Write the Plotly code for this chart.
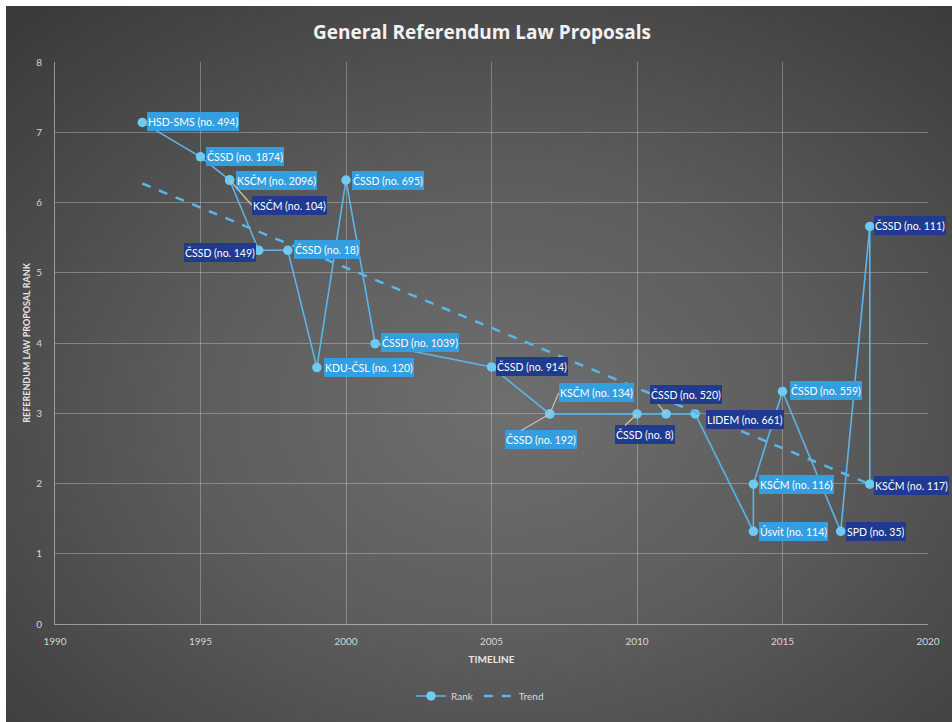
import plotly.graph_objects as go

# ---- data ----
years = [1993, 1995, 1996, 1996, 1997, 1998, 1999, 2000, 2001, 2005,
         2007, 2007, 2010, 2011, 2012, 2014, 2014, 2015, 2017, 2018, 2018]
ranks = [7.14, 6.65, 6.32, 6.32, 5.32, 5.32, 3.65, 6.32, 3.99, 3.66,
         2.99, 2.99, 2.99, 2.99, 2.99, 1.32, 1.99, 3.31, 1.32, 5.66, 1.99]
labels = ["HSD-SMS (no. 494)", "ČSSD (no. 1874)", "KSČM (no. 2096)", "KSČM (no. 104)",
          "ČSSD (no. 149)", "ČSSD (no. 18)", "KDU-ČSL (no. 120)", "ČSSD (no. 695)",
          "ČSSD (no. 1039)", "ČSSD (no. 914)", "ČSSD (no. 192)", "KSČM (no. 134)",
          "ČSSD (no. 8)", "ČSSD (no. 520)", "LIDEM (no. 661)", "Úsvit (no. 114)",
          "KSČM (no. 116)", "ČSSD (no. 559)", "SPD (no. 35)", "ČSSD (no. 111)",
          "KSČM (no. 117)"]
trend_years = [1993, 2018]
trend_ranks = [6.27, 1.99]

x_ticks = [1990, 1995, 2000, 2005, 2010, 2015, 2020]
y_ticks = [0, 1, 2, 3, 4, 5, 6, 7, 8]

# ---- label styling / placement (pixels) ----
LIGHT = "#339ee0"
DARK = "#1f3a8e"
label_tone = ["L", "L", "L", "D", "D", "L", "L", "L", "L", "D",
              "L", "L", "D", "D", "D", "L", "L", "L", "D", "D", "D"]
# (ax, ay, xanchor, leader)
label_place = [
    (5, -1, "left", False), (5, 0, "left", False), (6, 0, "left", False),
    (22, 25, "left", True), (-3, 2, "right", False), (6, -1, "left", False),
    (7, 0, "left", False), (6, 0, "left", False), (6, -1, "left", False),
    (4, 0, "left", False), (-45, 26, "left", True), (9, -21, "left", True),
    (-22, 21, "left", True), (-16, -19, "left", True), (11, 6, "left", False),
    (6, 0, "left", False), (6, 0, "left", False), (7, -1, "left", False),
    (5, 0, "left", False), (4, -1, "left", False), (4, 1, "left", False),
]

W, H = 952, 722
ML, MT = 55, 62
PW, PH = 877, 570
MR, MB = W - ML - PW, H - MT - PH

fig = go.Figure()
fig.add_trace(go.Scatter(
    x=years, y=ranks, mode="lines+markers", name="Rank",
    line=dict(color="#5ab6ea", width=1.6),
    marker=dict(color="#6ccaf5", size=9.5),
))
fig.add_trace(go.Scatter(
    x=trend_years, y=trend_ranks, mode="lines", name="Trend",
    line=dict(color="#5ab6ea", width=2.5, dash="dash"),
))

for i, (x, y, txt) in enumerate(zip(years, ranks, labels)):
    ax, ay, xa, leader = label_place[i]
    fig.add_annotation(
        x=x, y=y, text=txt, showarrow=True, ax=ax, ay=ay, axref="pixel", ayref="pixel",
        xanchor=xa, yanchor="middle",
        arrowhead=0, arrowwidth=1.2,
        arrowcolor="#cfc2ae" if leader else "rgba(0,0,0,0)",
        bgcolor=LIGHT if label_tone[i] == "L" else DARK,
        borderpad=1, borderwidth=0, height=17,
        font=dict(family="Lato", size=10.5, color="#ffffff"),
    )

fig.update_layout(
    width=W, height=H,
    margin=dict(l=ML, r=MR, t=MT, b=MB),
    paper_bgcolor="rgba(0,0,0,0)", plot_bgcolor="rgba(0,0,0,0)",
    title=dict(text="<b>General Referendum Law Proposals</b>", x=482 / W, xanchor="center",
               y=1 - 32 / H, yanchor="middle",
               font=dict(family="Open Sans", size=19, color="#f2f2f2")),
    showlegend=True,
    legend=dict(orientation="h", x=(482 - ML) / PW, xanchor="center",
                y=-(705 - MT - PH) / PH,
                yanchor="middle", font=dict(family="Lato", size=10, color="#d8d8d8"),
                bgcolor="rgba(0,0,0,0)"),
    font=dict(family="Lato"),
)
fig.update_xaxes(
    range=[1990, 2020], tickvals=x_ticks, ticktext=[str(v) for v in x_ticks],
    showgrid=True, gridcolor="rgba(255,255,255,0.28)", gridwidth=1,
    zeroline=False, showline=True, linecolor="rgba(255,255,255,0.45)", linewidth=1,
    tickfont=dict(family="Lato", size=10, color="#d6d6d6"), ticks="",
    ticklabelstandoff=8,
    title=dict(text="<b>TIMELINE</b>", font=dict(family="Lato", size=10, color="#e6e6e6"), standoff=9),
)
fig.update_yaxes(
    range=[0, 8], tickvals=y_ticks, ticktext=[str(v) for v in y_ticks],
    showgrid=True, gridcolor="rgba(255,255,255,0.28)", gridwidth=1,
    zeroline=False, showline=True, linecolor="rgba(255,255,255,0.45)", linewidth=1,
    tickfont=dict(family="Lato", size=10, color="#d6d6d6"), ticks="",
    ticklabelstandoff=10,
    title=dict(text="<b>REFERENDUM LAW PROPOSAL RANK</b>", font=dict(family="Lato", size=9, color="#e6e6e6"), standoff=4),
)

# page background: white 6px strip at top/left, dark radial gradient elsewhere
page_style = (
    "var r=document.documentElement, b=document.body;"
    "b.style.margin='0'; b.style.overflow='hidden'; r.style.overflow='hidden';"
    "r.style.background="
    "'linear-gradient(to right, #ffffff 6px, rgba(0,0,0,0) 6px),"
    " linear-gradient(to bottom, #ffffff 6px, rgba(0,0,0,0) 6px),"
    " radial-gradient(ellipse 75% 75% at 53% 57%, #6f6f6f 0%, #5c5c5c 45%, #3a3a3a 100%)';"
)
fig.write_html("out.html", config={"displayModeBar": False}, post_script=page_style)
